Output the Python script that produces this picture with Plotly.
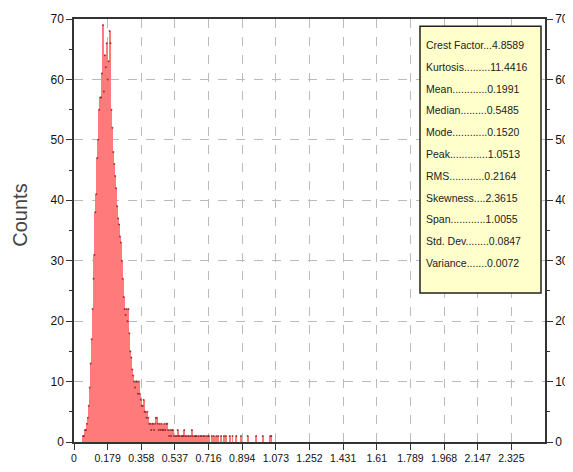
import plotly.graph_objects as go

# ---- data ----
bin_start = 0.0458
bin_width = 0.005028
counts = [
    1, 1, 2, 2, 3, 4, 6, 9, 13, 17,
    22, 27, 31, 38, 41, 47, 50, 55, 57, 57,
    61, 69, 58, 64, 62, 66, 60, 63, 68, 66,
    55, 52, 48, 46, 44, 42, 39, 37, 36, 34,
    33, 30, 27, 24, 22, 21, 22, 20, 22, 18,
    15, 14, 12, 11, 10, 9, 10, 10, 8, 10,
    8, 7, 6, 6, 7, 5, 5, 4, 5, 4,
    3, 3, 2, 3, 3, 2, 3, 4, 4, 3,
    2, 3, 2, 3, 2, 2, 3, 2, 3, 3,
    2, 1, 2, 1, 2, 2, 1, 0, 1, 1,
    2, 1, 1, 0, 1, 1, 1, 2, 1, 1,
    0, 1, 1, 0, 1, 2, 1, 0, 1, 1,
    1, 0, 1, 0, 1, 1, 0, 1, 1, 0,
    1, 0, 1, 1, 0, 0, 1, 0, 1, 0,
    0, 1, 0, 1, 0, 0, 1, 0, 0, 1,
    0, 1, 0, 0, 0, 1, 0, 0, 1, 0,
    0, 0, 1, 0, 0, 0, 0, 1, 0, 0,
    0, 0, 0, 0, 1, 0, 0, 0, 0, 0,
    0, 0, 0, 1, 0, 0, 0, 0, 0, 0,
    1, 0, 0, 0, 0, 0, 0, 0, 1, 1,
]
x_tick_vals = [0, 0.17885, 0.3577, 0.53655, 0.7154, 0.89425, 1.0731, 1.25195,
               1.4308, 1.60965, 1.7885, 1.96735, 2.1462, 2.32505]
x_tick_text = ["0", "0.179", "0.358", "0.537", "0.716", "0.894", "1.073", "1.252",
               "1.431", "1.61", "1.789", "1.968", "2.147", "2.325"]
x_range = [0, 2.504]
y_range = [0, 70]
y_title = "Counts"
stat_names = ["Crest Factor", "Kurtosis", "Mean", "Median", "Mode", "Peak",
              "RMS", "Skewness", "Span", "Std. Dev.", "Variance"]
stat_values = ["4.8589", "11.4416", "0.1991", "0.5485", "0.1520", "1.0513",
               "0.2164", "2.3615", "1.0055", "0.0847", "0.0072"]
stat_dots = [3, 9, 12, 9, 12, 13, 12, 4, 12, 7, 7]

centers = [bin_start + (i + 0.5) * bin_width for i in range(len(counts))]

FONT = "Liberation Sans, Arial, sans-serif"

fig = go.Figure()
fig.add_trace(go.Bar(
    x=centers, y=counts, width=bin_width,
    marker=dict(color="#FF7A7A", line=dict(width=0)),
    hoverinfo="x+y", showlegend=False,
))
nz = [(c, v) for c, v in zip(centers, counts) if v > 0]
fig.add_trace(go.Scatter(
    x=[c for c, _ in nz], y=[v for _, v in nz], mode="markers",
    marker=dict(size=2, color="#7A1A1A", opacity=0.75),
    showlegend=False, hoverinfo="skip",
))
# invisible trace for right axis
fig.add_trace(go.Scatter(x=[0], y=[0], yaxis="y2", mode="markers",
                         marker=dict(opacity=0), showlegend=False,
                         hoverinfo="skip"))

# page body has an 8px margin, so the figure is slightly smaller than the window
fig.update_layout(
    width=565, height=464,
    margin=dict(l=66, r=28, t=11, b=30, autoexpand=False),
    paper_bgcolor="white", plot_bgcolor="white",
    bargap=0,
    xaxis=dict(
        range=x_range, tickmode="array", tickvals=x_tick_vals, ticktext=x_tick_text,
        tickangle=0,
        ticks="outside", ticklen=6, tickcolor="#333333",
        showline=True, linecolor="#333333", linewidth=1.5, mirror=True,
        showgrid=True, gridcolor="#BBBBBB", griddash="dash", gridwidth=1,
        zeroline=False, tickfont=dict(family=FONT, size=10.5, color="#111111"),
    ),
    yaxis=dict(
        range=y_range, dtick=10, ticks="outside", ticklen=6, tickcolor="#333333",
        minor=dict(dtick=5, ticks="outside", ticklen=3, tickcolor="#333333"),
        showline=True, linecolor="#333333", linewidth=1.5,
        showgrid=True, gridcolor="#BBBBBB", griddash="dash", gridwidth=1,
        zeroline=False, tickfont=dict(family=FONT, size=12, color="#111111"),
    ),
    yaxis2=dict(
        range=y_range, dtick=10, overlaying="y", side="right",
        ticks="outside", ticklen=6, tickcolor="#333333",
        minor=dict(dtick=5, ticks="outside", ticklen=3, tickcolor="#333333"),
        showline=True, linecolor="#333333", linewidth=1.5,
        showgrid=False, zeroline=False,
        tickfont=dict(family=FONT, size=12, color="#111111"),
    ),
)

# y-axis title
fig.add_annotation(
    xref="paper", yref="paper", x=-0.1146, y=0.535, xanchor="center", yanchor="middle",
    text=y_title, textangle=-90, showarrow=False,
    font=dict(family=FONT, size=20, color="#444444"),
)

# statistics box
fig.add_shape(type="rect", xref="paper", yref="paper",
              x0=0.7346, x1=0.9915, y0=0.352, y1=0.983,
              fillcolor="#FFFFCC", line=dict(color="#222222", width=1.5), layer="above")
n = len(stat_names)
for i, (name, val, d) in enumerate(zip(stat_names, stat_values, stat_dots)):
    y = 0.9385 - i * (0.9385 - 0.4232) / (n - 1)
    fig.add_annotation(
        xref="paper", yref="paper", x=0.743, y=y, xanchor="left", yanchor="middle",
        text=f"{name}{'.' * d}{val}", showarrow=False,
        font=dict(family=FONT, size=10.5, color="#222222"),
    )

fig.write_html("out.html")
